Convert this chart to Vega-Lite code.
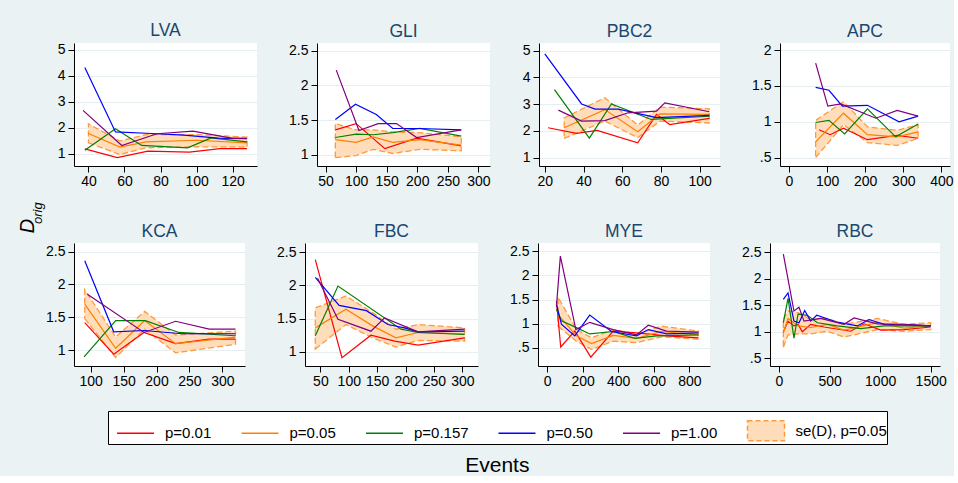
{
"$schema": "https://vega.github.io/schema/vega-lite/v6.json",
"background": "#EAF2F3",
"padding": {"left": 17, "top": 22, "right": 0, "bottom": 0},
"datasets": {"d": [
{"p":"LVA","s":"p=0.01","x":38,"y":1.19},{"p":"LVA","s":"p=0.01","x":56,"y":0.85},{"p":"LVA","s":"p=0.01","x":73,"y":1.10},{"p":"LVA","s":"p=0.01","x":96,"y":1.06},{"p":"LVA","s":"p=0.01","x":113,"y":1.20},{"p":"LVA","s":"p=0.01","x":128,"y":1.20},
{"p":"LVA","s":"p=0.05","x":40,"y":1.78,"lo":1.42,"hi":2.15},{"p":"LVA","s":"p=0.05","x":57.5,"y":1.26,"lo":0.97,"hi":1.49},{"p":"LVA","s":"p=0.05","x":72,"y":1.46,"lo":1.23,"hi":1.74},{"p":"LVA","s":"p=0.05","x":100,"y":1.52,"lo":1.27,"hi":1.74},{"p":"LVA","s":"p=0.05","x":128,"y":1.42,"lo":1.26,"hi":1.64},
{"p":"LVA","s":"p=0.157","x":38,"y":1.14},{"p":"LVA","s":"p=0.157","x":55,"y":1.96},{"p":"LVA","s":"p=0.157","x":69.5,"y":1.32},{"p":"LVA","s":"p=0.157","x":95,"y":1.23},{"p":"LVA","s":"p=0.157","x":108,"y":1.61},{"p":"LVA","s":"p=0.157","x":128,"y":1.46},
{"p":"LVA","s":"p=0.50","x":38,"y":4.32},{"p":"LVA","s":"p=0.50","x":55,"y":1.84},{"p":"LVA","s":"p=0.50","x":75,"y":1.78},{"p":"LVA","s":"p=0.50","x":93,"y":1.72},{"p":"LVA","s":"p=0.50","x":112,"y":1.60},{"p":"LVA","s":"p=0.50","x":128,"y":1.58},
{"p":"LVA","s":"p=1.00","x":37,"y":2.67},{"p":"LVA","s":"p=1.00","x":58.5,"y":1.32},{"p":"LVA","s":"p=1.00","x":78,"y":1.77},{"p":"LVA","s":"p=1.00","x":98,"y":1.87},{"p":"LVA","s":"p=1.00","x":120,"y":1.59},{"p":"LVA","s":"p=1.00","x":128,"y":1.59},

{"p":"GLI","s":"p=0.01","x":66,"y":1.36},{"p":"GLI","s":"p=0.01","x":100,"y":1.45},{"p":"GLI","s":"p=0.01","x":147,"y":1.09},{"p":"GLI","s":"p=0.01","x":199,"y":1.24},{"p":"GLI","s":"p=0.01","x":272,"y":1.13},
{"p":"GLI","s":"p=0.05","x":66,"y":1.22,"lo":0.96,"hi":1.45},{"p":"GLI","s":"p=0.05","x":100,"y":1.18,"lo":0.99,"hi":1.36},{"p":"GLI","s":"p=0.05","x":128,"y":1.26,"lo":1.08,"hi":1.36},{"p":"GLI","s":"p=0.05","x":160,"y":1.18,"lo":1.02,"hi":1.33},{"p":"GLI","s":"p=0.05","x":204,"y":1.22,"lo":1.08,"hi":1.32},{"p":"GLI","s":"p=0.05","x":272,"y":1.14,"lo":1.06,"hi":1.26},
{"p":"GLI","s":"p=0.157","x":66,"y":1.25},{"p":"GLI","s":"p=0.157","x":100,"y":1.30},{"p":"GLI","s":"p=0.157","x":128,"y":1.29},{"p":"GLI","s":"p=0.157","x":160,"y":1.32},{"p":"GLI","s":"p=0.157","x":204,"y":1.38},{"p":"GLI","s":"p=0.157","x":272,"y":1.27},
{"p":"GLI","s":"p=0.50","x":66,"y":1.51},{"p":"GLI","s":"p=0.50","x":99,"y":1.73},{"p":"GLI","s":"p=0.50","x":133,"y":1.58},{"p":"GLI","s":"p=0.50","x":160,"y":1.38},{"p":"GLI","s":"p=0.50","x":204,"y":1.38},{"p":"GLI","s":"p=0.50","x":272,"y":1.36},
{"p":"GLI","s":"p=1.00","x":67.5,"y":2.22},{"p":"GLI","s":"p=1.00","x":104.6,"y":1.35},{"p":"GLI","s":"p=1.00","x":136,"y":1.45},{"p":"GLI","s":"p=1.00","x":166,"y":1.45},{"p":"GLI","s":"p=1.00","x":199,"y":1.25},{"p":"GLI","s":"p=1.00","x":272,"y":1.36},

{"p":"PBC2","s":"p=0.01","x":21.7,"y":2.12},{"p":"PBC2","s":"p=0.01","x":36.4,"y":1.91},{"p":"PBC2","s":"p=0.01","x":47,"y":2.02},{"p":"PBC2","s":"p=0.01","x":68,"y":1.56},{"p":"PBC2","s":"p=0.01","x":77.7,"y":2.62},{"p":"PBC2","s":"p=0.01","x":84.5,"y":2.24},{"p":"PBC2","s":"p=0.01","x":105,"y":2.47},
{"p":"PBC2","s":"p=0.05","x":30,"y":2.12,"lo":1.72,"hi":2.49},{"p":"PBC2","s":"p=0.05","x":51,"y":2.80,"lo":2.37,"hi":3.24},{"p":"PBC2","s":"p=0.05","x":68,"y":1.97,"lo":1.75,"hi":2.22},{"p":"PBC2","s":"p=0.05","x":79.5,"y":2.64,"lo":2.37,"hi":2.89},{"p":"PBC2","s":"p=0.05","x":105,"y":2.62,"lo":2.30,"hi":2.83},
{"p":"PBC2","s":"p=0.157","x":25,"y":3.55},{"p":"PBC2","s":"p=0.157","x":43,"y":1.73},{"p":"PBC2","s":"p=0.157","x":54.4,"y":3.01},{"p":"PBC2","s":"p=0.157","x":75,"y":2.43},{"p":"PBC2","s":"p=0.157","x":105,"y":2.55},
{"p":"PBC2","s":"p=0.50","x":20,"y":4.88},{"p":"PBC2","s":"p=0.50","x":39,"y":3.01},{"p":"PBC2","s":"p=0.50","x":46,"y":2.82},{"p":"PBC2","s":"p=0.50","x":58,"y":2.82},{"p":"PBC2","s":"p=0.50","x":77.7,"y":2.50},{"p":"PBC2","s":"p=0.50","x":105,"y":2.58},
{"p":"PBC2","s":"p=1.00","x":27,"y":2.78},{"p":"PBC2","s":"p=1.00","x":39,"y":2.37},{"p":"PBC2","s":"p=1.00","x":51,"y":2.39},{"p":"PBC2","s":"p=1.00","x":63,"y":2.68},{"p":"PBC2","s":"p=1.00","x":77.7,"y":2.74},{"p":"PBC2","s":"p=1.00","x":82,"y":3.05},{"p":"PBC2","s":"p=1.00","x":105,"y":2.72},

{"p":"APC","s":"p=0.01","x":79,"y":0.89},{"p":"APC","s":"p=0.01","x":108,"y":0.82},{"p":"APC","s":"p=0.01","x":143,"y":0.91},{"p":"APC","s":"p=0.01","x":206,"y":0.75},{"p":"APC","s":"p=0.01","x":284,"y":0.81},{"p":"APC","s":"p=0.01","x":339,"y":0.77},
{"p":"APC","s":"p=0.05","x":70,"y":0.72,"lo":0.50,"hi":1.02},{"p":"APC","s":"p=0.05","x":143,"y":1.12,"lo":0.96,"hi":1.28},{"p":"APC","s":"p=0.05","x":206,"y":0.82,"lo":0.71,"hi":0.93},{"p":"APC","s":"p=0.05","x":284,"y":0.79,"lo":0.67,"hi":0.88},{"p":"APC","s":"p=0.05","x":339,"y":0.86,"lo":0.77,"hi":0.96},
{"p":"APC","s":"p=0.157","x":70,"y":0.99},{"p":"APC","s":"p=0.157","x":105,"y":1.02},{"p":"APC","s":"p=0.157","x":146,"y":0.83},{"p":"APC","s":"p=0.157","x":206,"y":1.18},{"p":"APC","s":"p=0.157","x":280,"y":0.79},{"p":"APC","s":"p=0.157","x":339,"y":0.97},
{"p":"APC","s":"p=0.50","x":70,"y":1.48},{"p":"APC","s":"p=0.50","x":105,"y":1.44},{"p":"APC","s":"p=0.50","x":140,"y":1.22},{"p":"APC","s":"p=0.50","x":206,"y":1.23},{"p":"APC","s":"p=0.50","x":289,"y":1.00},{"p":"APC","s":"p=0.50","x":339,"y":1.08},
{"p":"APC","s":"p=1.00","x":70,"y":1.82},{"p":"APC","s":"p=1.00","x":102,"y":1.22},{"p":"APC","s":"p=1.00","x":136,"y":1.25},{"p":"APC","s":"p=1.00","x":228,"y":1.05},{"p":"APC","s":"p=1.00","x":284,"y":1.16},{"p":"APC","s":"p=1.00","x":339,"y":1.08},

{"p":"KCA","s":"p=0.01","x":91,"y":1.42},{"p":"KCA","s":"p=0.01","x":135,"y":0.94},{"p":"KCA","s":"p=0.01","x":181,"y":1.27},{"p":"KCA","s":"p=0.01","x":229,"y":1.10},{"p":"KCA","s":"p=0.01","x":280,"y":1.17},{"p":"KCA","s":"p=0.01","x":320,"y":1.17},
{"p":"KCA","s":"p=0.05","x":91,"y":1.70,"lo":1.48,"hi":1.92},{"p":"KCA","s":"p=0.05","x":138,"y":1.03,"lo":0.89,"hi":1.20},{"p":"KCA","s":"p=0.05","x":182,"y":1.45,"lo":1.32,"hi":1.59},{"p":"KCA","s":"p=0.05","x":229,"y":1.10,"lo":0.96,"hi":1.23},{"p":"KCA","s":"p=0.05","x":320,"y":1.20,"lo":1.09,"hi":1.29},
{"p":"KCA","s":"p=0.157","x":90,"y":0.90},{"p":"KCA","s":"p=0.157","x":138,"y":1.45},{"p":"KCA","s":"p=0.157","x":183,"y":1.45},{"p":"KCA","s":"p=0.157","x":234,"y":1.27},{"p":"KCA","s":"p=0.157","x":320,"y":1.22},
{"p":"KCA","s":"p=0.50","x":91,"y":2.36},{"p":"KCA","s":"p=0.50","x":135,"y":1.28},{"p":"KCA","s":"p=0.50","x":181,"y":1.30},{"p":"KCA","s":"p=0.50","x":239,"y":1.25},{"p":"KCA","s":"p=0.50","x":320,"y":1.25},
{"p":"KCA","s":"p=1.00","x":95,"y":1.85},{"p":"KCA","s":"p=1.00","x":181,"y":1.27},{"p":"KCA","s":"p=1.00","x":229,"y":1.44},{"p":"KCA","s":"p=1.00","x":280,"y":1.32},{"p":"KCA","s":"p=1.00","x":320,"y":1.32},

{"p":"FBC","s":"p=0.01","x":41,"y":2.39},{"p":"FBC","s":"p=0.01","x":88,"y":0.91},{"p":"FBC","s":"p=0.01","x":139,"y":1.25},{"p":"FBC","s":"p=0.01","x":181,"y":1.16},{"p":"FBC","s":"p=0.01","x":222,"y":1.10},{"p":"FBC","s":"p=0.01","x":304,"y":1.21},
{"p":"FBC","s":"p=0.05","x":41,"y":1.36,"lo":1.04,"hi":1.66},{"p":"FBC","s":"p=0.05","x":95,"y":1.64,"lo":1.41,"hi":1.84},{"p":"FBC","s":"p=0.05","x":142,"y":1.39,"lo":1.21,"hi":1.59},{"p":"FBC","s":"p=0.05","x":183,"y":1.21,"lo":1.07,"hi":1.34},{"p":"FBC","s":"p=0.05","x":222,"y":1.29,"lo":1.17,"hi":1.41},{"p":"FBC","s":"p=0.05","x":304,"y":1.27,"lo":1.16,"hi":1.36},
{"p":"FBC","s":"p=0.157","x":41,"y":1.24},{"p":"FBC","s":"p=0.157","x":81,"y":1.99},{"p":"FBC","s":"p=0.157","x":192,"y":1.34},{"p":"FBC","s":"p=0.157","x":222,"y":1.29},{"p":"FBC","s":"p=0.157","x":304,"y":1.26},
{"p":"FBC","s":"p=0.50","x":41,"y":2.12},{"p":"FBC","s":"p=0.50","x":83,"y":1.70},{"p":"FBC","s":"p=0.50","x":131,"y":1.62},{"p":"FBC","s":"p=0.50","x":169,"y":1.41},{"p":"FBC","s":"p=0.50","x":198,"y":1.36},{"p":"FBC","s":"p=0.50","x":222,"y":1.30},{"p":"FBC","s":"p=0.50","x":304,"y":1.31},
{"p":"FBC","s":"p=1.00","x":45,"y":2.11},{"p":"FBC","s":"p=1.00","x":81,"y":1.49},{"p":"FBC","s":"p=1.00","x":139,"y":1.31},{"p":"FBC","s":"p=1.00","x":163,"y":1.51},{"p":"FBC","s":"p=1.00","x":222,"y":1.30},{"p":"FBC","s":"p=1.00","x":304,"y":1.34},

{"p":"MYE","s":"p=0.01","x":53,"y":1.47},{"p":"MYE","s":"p=0.01","x":77,"y":0.52},{"p":"MYE","s":"p=0.01","x":156,"y":0.85},{"p":"MYE","s":"p=0.01","x":246,"y":0.31},{"p":"MYE","s":"p=0.01","x":372,"y":0.85},{"p":"MYE","s":"p=0.01","x":503,"y":0.81},{"p":"MYE","s":"p=0.01","x":672,"y":0.75},{"p":"MYE","s":"p=0.01","x":851,"y":0.71},
{"p":"MYE","s":"p=0.05","x":62,"y":1.19,"lo":0.95,"hi":1.55},{"p":"MYE","s":"p=0.05","x":165,"y":0.75,"lo":0.64,"hi":0.88},{"p":"MYE","s":"p=0.05","x":250,"y":0.59,"lo":0.47,"hi":0.71},{"p":"MYE","s":"p=0.05","x":372,"y":0.76,"lo":0.64,"hi":0.88},{"p":"MYE","s":"p=0.05","x":503,"y":0.70,"lo":0.61,"hi":0.79},{"p":"MYE","s":"p=0.05","x":644,"y":0.84,"lo":0.73,"hi":0.95},{"p":"MYE","s":"p=0.05","x":851,"y":0.77,"lo":0.68,"hi":0.85},
{"p":"MYE","s":"p=0.157","x":53,"y":1.30},{"p":"MYE","s":"p=0.157","x":81,"y":1.06},{"p":"MYE","s":"p=0.157","x":165,"y":0.92},{"p":"MYE","s":"p=0.157","x":240,"y":0.79},{"p":"MYE","s":"p=0.157","x":372,"y":0.84},{"p":"MYE","s":"p=0.157","x":494,"y":0.70},{"p":"MYE","s":"p=0.157","x":616,"y":0.75},{"p":"MYE","s":"p=0.157","x":851,"y":0.77},
{"p":"MYE","s":"p=0.50","x":53,"y":1.40},{"p":"MYE","s":"p=0.50","x":81,"y":0.99},{"p":"MYE","s":"p=0.50","x":156,"y":0.75},{"p":"MYE","s":"p=0.50","x":240,"y":1.18},{"p":"MYE","s":"p=0.50","x":362,"y":0.84},{"p":"MYE","s":"p=0.50","x":503,"y":0.75},{"p":"MYE","s":"p=0.50","x":569,"y":0.88},{"p":"MYE","s":"p=0.50","x":672,"y":0.79},{"p":"MYE","s":"p=0.50","x":851,"y":0.81},
{"p":"MYE","s":"p=1.00","x":53,"y":1.36},{"p":"MYE","s":"p=1.00","x":75,"y":2.40},{"p":"MYE","s":"p=1.00","x":162,"y":0.88},{"p":"MYE","s":"p=1.00","x":240,"y":1.03},{"p":"MYE","s":"p=1.00","x":372,"y":0.88},{"p":"MYE","s":"p=1.00","x":503,"y":0.77},{"p":"MYE","s":"p=1.00","x":569,"y":0.97},{"p":"MYE","s":"p=1.00","x":672,"y":0.85},{"p":"MYE","s":"p=1.00","x":851,"y":0.83},

{"p":"RBC","s":"p=0.01","x":43,"y":1.00},{"p":"RBC","s":"p=0.01","x":89,"y":1.20},{"p":"RBC","s":"p=0.01","x":148,"y":1.11},{"p":"RBC","s":"p=0.01","x":188,"y":1.14},{"p":"RBC","s":"p=0.01","x":231,"y":1.00},{"p":"RBC","s":"p=0.01","x":313,"y":1.14},{"p":"RBC","s":"p=0.01","x":445,"y":1.09},{"p":"RBC","s":"p=0.01","x":709,"y":1.01},{"p":"RBC","s":"p=0.01","x":841,"y":1.15},{"p":"RBC","s":"p=0.01","x":1006,"y":1.03},{"p":"RBC","s":"p=0.01","x":1236,"y":1.04},{"p":"RBC","s":"p=0.01","x":1500,"y":1.09},
{"p":"RBC","s":"p=0.05","x":43,"y":0.98,"lo":0.71,"hi":1.23},{"p":"RBC","s":"p=0.05","x":89,"y":1.25,"lo":0.94,"hi":1.39},{"p":"RBC","s":"p=0.05","x":188,"y":1.11,"lo":0.96,"hi":1.36},{"p":"RBC","s":"p=0.05","x":313,"y":1.08,"lo":0.96,"hi":1.23},{"p":"RBC","s":"p=0.05","x":478,"y":1.14,"lo":1.01,"hi":1.25},{"p":"RBC","s":"p=0.05","x":643,"y":1.03,"lo":0.90,"hi":1.14},{"p":"RBC","s":"p=0.05","x":973,"y":1.17,"lo":1.04,"hi":1.25},{"p":"RBC","s":"p=0.05","x":1236,"y":1.07,"lo":1.01,"hi":1.14},{"p":"RBC","s":"p=0.05","x":1500,"y":1.11,"lo":1.04,"hi":1.17},
{"p":"RBC","s":"p=0.157","x":43,"y":1.17},{"p":"RBC","s":"p=0.157","x":89,"y":1.63},{"p":"RBC","s":"p=0.157","x":148,"y":0.88},{"p":"RBC","s":"p=0.157","x":188,"y":1.33},{"p":"RBC","s":"p=0.157","x":280,"y":1.31},{"p":"RBC","s":"p=0.157","x":379,"y":1.17},{"p":"RBC","s":"p=0.157","x":577,"y":1.11},{"p":"RBC","s":"p=0.157","x":808,"y":1.06},{"p":"RBC","s":"p=0.157","x":1039,"y":1.11},{"p":"RBC","s":"p=0.157","x":1500,"y":1.11},
{"p":"RBC","s":"p=0.50","x":43,"y":1.61},{"p":"RBC","s":"p=0.50","x":89,"y":1.73},{"p":"RBC","s":"p=0.50","x":148,"y":1.20},{"p":"RBC","s":"p=0.50","x":198,"y":1.17},{"p":"RBC","s":"p=0.50","x":254,"y":1.40},{"p":"RBC","s":"p=0.50","x":313,"y":1.20},{"p":"RBC","s":"p=0.50","x":373,"y":1.31},{"p":"RBC","s":"p=0.50","x":577,"y":1.18},{"p":"RBC","s":"p=0.50","x":775,"y":1.11},{"p":"RBC","s":"p=0.50","x":890,"y":1.23},{"p":"RBC","s":"p=0.50","x":1039,"y":1.14},{"p":"RBC","s":"p=0.50","x":1302,"y":1.13},{"p":"RBC","s":"p=0.50","x":1500,"y":1.11},
{"p":"RBC","s":"p=1.00","x":43,"y":2.46},{"p":"RBC","s":"p=1.00","x":148,"y":1.39},{"p":"RBC","s":"p=1.00","x":198,"y":1.46},{"p":"RBC","s":"p=1.00","x":247,"y":1.20},{"p":"RBC","s":"p=1.00","x":412,"y":1.25},{"p":"RBC","s":"p=1.00","x":643,"y":1.14},{"p":"RBC","s":"p=1.00","x":742,"y":1.26},{"p":"RBC","s":"p=1.00","x":973,"y":1.15},{"p":"RBC","s":"p=1.00","x":1236,"y":1.14},{"p":"RBC","s":"p=1.00","x":1500,"y":1.11}
]},
"data": {"name": "d"},
"title": {"text": "Events", "orient": "bottom", "anchor": "middle", "fontSize": 21, "color": "black", "font": "Liberation Sans", "fontWeight": "normal", "offset": 10, "dx": 12},
"vconcat": [
{
"title": {"text": "D", "orient": "left", "anchor": "middle", "font": "Liberation Sans", "fontSize": 20, "fontStyle": "italic", "fontWeight": "normal", "color": "black", "offset": -6, "dx": -21},
"vconcat": [
{
"title": {"text": "orig", "orient": "left", "anchor": "middle", "font": "Liberation Sans", "fontSize": 13, "fontStyle": "italic", "fontWeight": "normal", "color": "black", "offset": 1, "dx": -8},
"spacing": 34,
"vconcat": [
{"spacing": 31, "hconcat": [
{"title": "LVA", "width": 183, "height": 123, "transform": [{"filter": "datum.p == 'LVA'"}], "layer": [
 {"transform": [{"filter": "isValid(datum.lo)"}], "mark": {"type": "area", "fill": "#FFDDBB", "stroke": "#FF9A3C", "strokeDash": [6,3], "strokeWidth": 1.3},
  "encoding": {"x": {"field": "x", "type": "quantitative", "title": null, "scale": {"domain": [32,133.5], "nice": false, "zero": false}, "axis": {"values": [40,60,80,100,120], "tickCount": 20, "labelOverlap": false, "labelExpr": "format(datum.value, '~g')"}},
   "y": {"field": "lo", "type": "quantitative", "title": null, "scale": {"domain": [0.53,5.26], "nice": false, "zero": false}, "axis": {"values": [1,2,3,4,5], "tickCount": 20, "labelOverlap": false, "labelExpr": "format(datum.value, '~g')"}}, "y2": {"field": "hi"}}},
 {"mark": {"type": "line", "strokeWidth": 1.2}, "encoding": {"x": {"field": "x", "type": "quantitative", "title": null}, "y": {"field": "y", "type": "quantitative", "title": null},
  "color": {"field": "s", "type": "nominal", "title": null, "scale": {"domain": ["p=0.01","p=0.05","p=0.157","p=0.50","p=1.00","se(D), p=0.05"], "range": ["#FF0000","#FF8000","#008000","#0000FF","#800080","#FF9A3C"]},
   "legend": {"orient": "none", "legendX": 34, "legendY": 368, "encoding": {"symbols": {"shape": {"condition": {"test": "datum.value === 'se(D), p=0.05'", "value": "M-1,-0.54H1V0.54H-1Z"}, "value": "stroke"}, "fill": {"condition": {"test": "datum.value === 'se(D), p=0.05'", "value": "#FFDDBB"}, "value": "transparent"}, "strokeDash": {"condition": {"test": "datum.value === 'se(D), p=0.05'", "value": [5,3]}, "value": [1,0]}}}}}}}
]},
{"title": "GLI", "width": 173, "height": 123, "transform": [{"filter": "datum.p == 'GLI'"}], "layer": [
 {"transform": [{"filter": "isValid(datum.lo)"}], "mark": {"type": "area", "fill": "#FFDDBB", "stroke": "#FF9A3C", "strokeDash": [6,3], "strokeWidth": 1.3},
  "encoding": {"x": {"field": "x", "type": "quantitative", "title": null, "scale": {"domain": [36,319], "nice": false, "zero": false}, "axis": {"values": [50,100,150,200,250,300], "tickCount": 20, "labelOverlap": false, "labelExpr": "format(datum.value, '~g')"}},
   "y": {"field": "lo", "type": "quantitative", "title": null, "scale": {"domain": [0.84,2.61], "nice": false, "zero": false}, "axis": {"values": [1,1.5,2,2.5], "tickCount": 20, "labelOverlap": false, "labelExpr": "format(datum.value, '~g')"}}, "y2": {"field": "hi"}}},
 {"mark": {"type": "line", "strokeWidth": 1.2}, "encoding": {"x": {"field": "x", "type": "quantitative", "title": null}, "y": {"field": "y", "type": "quantitative", "title": null},
  "color": {"field": "s", "type": "nominal", "title": null, "scale": {"domain": ["p=0.01","p=0.05","p=0.157","p=0.50","p=1.00","se(D), p=0.05"], "range": ["#FF0000","#FF8000","#008000","#0000FF","#800080","#FF9A3C"]}}}}
]},
{"title": "PBC2", "width": 181, "height": 123, "transform": [{"filter": "datum.p == 'PBC2'"}], "layer": [
 {"transform": [{"filter": "isValid(datum.lo)"}], "mark": {"type": "area", "fill": "#FFDDBB", "stroke": "#FF9A3C", "strokeDash": [6,3], "strokeWidth": 1.3},
  "encoding": {"x": {"field": "x", "type": "quantitative", "title": null, "scale": {"domain": [17,110.5], "nice": false, "zero": false}, "axis": {"values": [20,40,60,80,100], "tickCount": 20, "labelOverlap": false, "labelExpr": "format(datum.value, '~g')"}},
   "y": {"field": "lo", "type": "quantitative", "title": null, "scale": {"domain": [0.69,5.29], "nice": false, "zero": false}, "axis": {"values": [1,2,3,4,5], "tickCount": 20, "labelOverlap": false, "labelExpr": "format(datum.value, '~g')"}}, "y2": {"field": "hi"}}},
 {"mark": {"type": "line", "strokeWidth": 1.2}, "encoding": {"x": {"field": "x", "type": "quantitative", "title": null}, "y": {"field": "y", "type": "quantitative", "title": null},
  "color": {"field": "s", "type": "nominal", "title": null, "scale": {"domain": ["p=0.01","p=0.05","p=0.157","p=0.50","p=1.00","se(D), p=0.05"], "range": ["#FF0000","#FF8000","#008000","#0000FF","#800080","#FF9A3C"]}}}}
]},
{"title": "APC", "width": 170, "height": 123, "transform": [{"filter": "datum.p == 'APC'"}], "layer": [
 {"transform": [{"filter": "isValid(datum.lo)"}], "mark": {"type": "area", "fill": "#FFDDBB", "stroke": "#FF9A3C", "strokeDash": [6,3], "strokeWidth": 1.3},
  "encoding": {"x": {"field": "x", "type": "quantitative", "title": null, "scale": {"domain": [-23.6,422.7], "nice": false, "zero": false}, "axis": {"values": [0,100,200,300,400], "tickCount": 20, "labelOverlap": false, "labelExpr": "format(datum.value, '~g')"}},
   "y": {"field": "lo", "type": "quantitative", "title": null, "scale": {"domain": [0.383,2.1], "nice": false, "zero": false}, "axis": {"values": [0.5,1,1.5,2], "tickCount": 20, "labelOverlap": false, "labelExpr": "datum.value == 0.5 ? '.5' : format(datum.value, '~g')"}}, "y2": {"field": "hi"}}},
 {"mark": {"type": "line", "strokeWidth": 1.2}, "encoding": {"x": {"field": "x", "type": "quantitative", "title": null}, "y": {"field": "y", "type": "quantitative", "title": null},
  "color": {"field": "s", "type": "nominal", "title": null, "scale": {"domain": ["p=0.01","p=0.05","p=0.157","p=0.50","p=1.00","se(D), p=0.05"], "range": ["#FF0000","#FF8000","#008000","#0000FF","#800080","#FF9A3C"]}}}}
]}
]},
{"spacing": 31, "hconcat": [
{"title": "KCA", "width": 171, "height": 123, "transform": [{"filter": "datum.p == 'KCA'"}], "layer": [
 {"transform": [{"filter": "isValid(datum.lo)"}], "mark": {"type": "area", "fill": "#FFDDBB", "stroke": "#FF9A3C", "strokeDash": [6,3], "strokeWidth": 1.3},
  "encoding": {"x": {"field": "x", "type": "quantitative", "title": null, "scale": {"domain": [74.7,334.4], "nice": false, "zero": false}, "axis": {"values": [100,150,200,250,300], "tickCount": 20, "labelOverlap": false, "labelExpr": "format(datum.value, '~g')"}},
   "y": {"field": "lo", "type": "quantitative", "title": null, "scale": {"domain": [0.76,2.63], "nice": false, "zero": false}, "axis": {"values": [1,1.5,2,2.5], "tickCount": 20, "labelOverlap": false, "labelExpr": "format(datum.value, '~g')"}}, "y2": {"field": "hi"}}},
 {"mark": {"type": "line", "strokeWidth": 1.2}, "encoding": {"x": {"field": "x", "type": "quantitative", "title": null}, "y": {"field": "y", "type": "quantitative", "title": null},
  "color": {"field": "s", "type": "nominal", "title": null, "scale": {"domain": ["p=0.01","p=0.05","p=0.157","p=0.50","p=1.00","se(D), p=0.05"], "range": ["#FF0000","#FF8000","#008000","#0000FF","#800080","#FF9A3C"]}}}}
]},
{"title": "FBC", "width": 173, "height": 123, "transform": [{"filter": "datum.p == 'FBC'"}], "layer": [
 {"transform": [{"filter": "isValid(datum.lo)"}], "mark": {"type": "area", "fill": "#FFDDBB", "stroke": "#FF9A3C", "strokeDash": [6,3], "strokeWidth": 1.3},
  "encoding": {"x": {"field": "x", "type": "quantitative", "title": null, "scale": {"domain": [22.9,327.6], "nice": false, "zero": false}, "axis": {"values": [50,100,150,200,250,300], "tickCount": 20, "labelOverlap": false, "labelExpr": "format(datum.value, '~g')"}},
   "y": {"field": "lo", "type": "quantitative", "title": null, "scale": {"domain": [0.785,2.64], "nice": false, "zero": false}, "axis": {"values": [1,1.5,2,2.5], "tickCount": 20, "labelOverlap": false, "labelExpr": "format(datum.value, '~g')"}}, "y2": {"field": "hi"}}},
 {"mark": {"type": "line", "strokeWidth": 1.2}, "encoding": {"x": {"field": "x", "type": "quantitative", "title": null}, "y": {"field": "y", "type": "quantitative", "title": null},
  "color": {"field": "s", "type": "nominal", "title": null, "scale": {"domain": ["p=0.01","p=0.05","p=0.157","p=0.50","p=1.00","se(D), p=0.05"], "range": ["#FF0000","#FF8000","#008000","#0000FF","#800080","#FF9A3C"]}}}}
]},
{"title": "MYE", "width": 172, "height": 123, "transform": [{"filter": "datum.p == 'MYE'"}], "layer": [
 {"transform": [{"filter": "isValid(datum.lo)"}], "mark": {"type": "area", "fill": "#FFDDBB", "stroke": "#FF9A3C", "strokeDash": [6,3], "strokeWidth": 1.3},
  "encoding": {"x": {"field": "x", "type": "quantitative", "title": null, "scale": {"domain": [-50.7,916], "nice": false, "zero": false}, "axis": {"values": [0,200,400,600,800], "tickCount": 20, "labelOverlap": false, "labelExpr": "format(datum.value, '~g')"}},
   "y": {"field": "lo", "type": "quantitative", "title": null, "scale": {"domain": [0.127,2.67], "nice": false, "zero": false}, "axis": {"values": [0.5,1,1.5,2,2.5], "tickCount": 20, "labelOverlap": false, "labelExpr": "datum.value == 0.5 ? '.5' : format(datum.value, '~g')"}}, "y2": {"field": "hi"}}},
 {"mark": {"type": "line", "strokeWidth": 1.2}, "encoding": {"x": {"field": "x", "type": "quantitative", "title": null}, "y": {"field": "y", "type": "quantitative", "title": null},
  "color": {"field": "s", "type": "nominal", "title": null, "scale": {"domain": ["p=0.01","p=0.05","p=0.157","p=0.50","p=1.00","se(D), p=0.05"], "range": ["#FF0000","#FF8000","#008000","#0000FF","#800080","#FF9A3C"]}}}}
]},
{"title": "RBC", "width": 170, "height": 123, "transform": [{"filter": "datum.p == 'RBC'"}], "layer": [
 {"transform": [{"filter": "isValid(datum.lo)"}], "mark": {"type": "area", "fill": "#FFDDBB", "stroke": "#FF9A3C", "strokeDash": [6,3], "strokeWidth": 1.3},
  "encoding": {"x": {"field": "x", "type": "quantitative", "title": null, "scale": {"domain": [-89,1592], "nice": false, "zero": false}, "axis": {"values": [0,500,1000,1500], "tickCount": 20, "labelOverlap": false, "labelExpr": "format(datum.value, '~g')"}},
   "y": {"field": "lo", "type": "quantitative", "title": null, "scale": {"domain": [0.356,2.67], "nice": false, "zero": false}, "axis": {"values": [0.5,1,1.5,2,2.5], "tickCount": 20, "labelOverlap": false, "labelExpr": "datum.value == 0.5 ? '.5' : format(datum.value, '~g')"}}, "y2": {"field": "hi"}}},
 {"mark": {"type": "line", "strokeWidth": 1.2}, "encoding": {"x": {"field": "x", "type": "quantitative", "title": null}, "y": {"field": "y", "type": "quantitative", "title": null},
  "color": {"field": "s", "type": "nominal", "title": null, "scale": {"domain": ["p=0.01","p=0.05","p=0.157","p=0.50","p=1.00","se(D), p=0.05"], "range": ["#FF0000","#FF8000","#008000","#0000FF","#800080","#FF9A3C"]}}}}
]}
]}
]
}
]
}
],
"config": {
 "font": "Liberation Sans",
 "view": {"fill": "white", "stroke": null},
 "title": {"fontSize": 17.5, "fontWeight": "normal", "color": "#1A476F", "font": "Liberation Sans", "offset": 3},
 "axis": {"domainColor": "#000000", "domainWidth": 1, "tickColor": "#000000", "tickSize": 6, "labelColor": "#000000", "labelFont": "Liberation Sans", "labelFontSize": 14, "labelPadding": 2, "labelFlush": false, "labelOverlap": false},
 "axisX": {"grid": false},
 "axisY": {"grid": true, "gridColor": "#E6EEF1", "labelAngle": 0, "labelPadding": 3},
 "legend": {"orient": "none", "legendX": 34, "legendY": 368, "direction": "horizontal", "labelFontSize": 15, "labelFont": "Liberation Sans", "labelColor": "#000000", "symbolSize": 1369, "symbolStrokeWidth": 1.5, "symbolType": "stroke", "symbolOffset": 8, "labelOffset": 10, "columnPadding": 20.5, "padding": 0, "strokeColor": "#000000", "fillColor": "#FFFFFF", "labelLimit": 300}
}
}
